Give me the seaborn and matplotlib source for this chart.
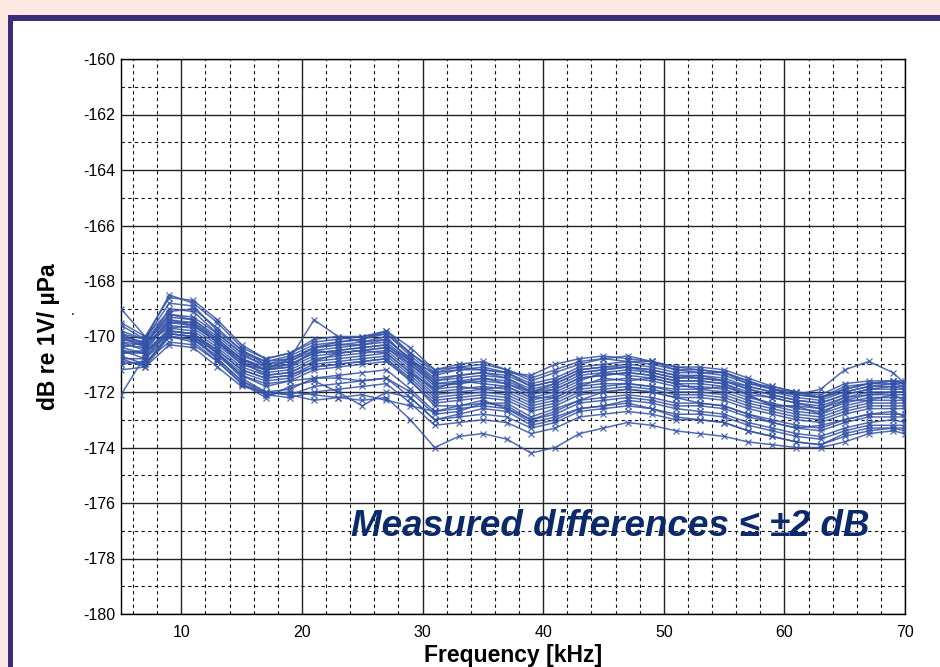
import pandas as pd
import matplotlib
matplotlib.use('Agg')
import matplotlib.pyplot as plt
from matplotlib.patches import Rectangle
from matplotlib.ticker import MultipleLocator
import seaborn as sns

# frequency points (kHz)
freq = [5, 7, 9, 11, 13, 15, 17, 19, 21, 23, 25, 27, 29, 31, 33, 35, 37,
        39, 41, 43, 45, 47, 49, 51, 53, 55, 57, 59, 61, 63, 65, 67, 69, 70]

# sensitivity curves (dB re 1V/uPa), one list per hydrophone
c1 = [-170.3,-170.4,-169.6,-169.7,-170.3,-171.0,-171.3,-171.2,-170.8,-170.7,-170.6,-170.5,-171.2,-172.0,-171.9,-171.8,-171.9,-172.3,-172.1,-171.7,-171.6,-171.5,-171.6,-171.8,-171.8,-171.9,-172.2,-172.4,-172.6,-172.7,-172.4,-172.2,-172.2,-172.2]
c2 = [-170.0,-170.2,-169.3,-169.4,-170.0,-170.7,-171.0,-170.9,-170.5,-170.4,-170.3,-170.2,-170.9,-171.7,-171.6,-171.5,-171.6,-172.0,-171.8,-171.4,-171.3,-171.2,-171.3,-171.5,-171.5,-171.6,-171.9,-172.1,-172.3,-172.4,-172.1,-171.9,-171.9,-171.9]
c3 = [-170.6,-170.6,-169.9,-170.0,-170.6,-171.3,-171.6,-171.5,-171.1,-171.0,-170.9,-170.8,-171.5,-172.3,-172.2,-172.1,-172.2,-172.6,-172.4,-172.0,-171.9,-171.8,-171.9,-172.1,-172.1,-172.2,-172.5,-172.7,-172.9,-173.0,-172.7,-172.5,-172.5,-172.5]
c4 = [-169.5,-170.0,-168.6,-168.7,-169.4,-170.3,-170.8,-170.6,-170.1,-170.0,-170.0,-169.8,-170.4,-171.2,-171.1,-171.0,-171.2,-171.5,-171.2,-170.9,-170.8,-170.9,-170.9,-171.1,-171.2,-171.3,-171.6,-171.9,-172.0,-172.1,-171.7,-171.6,-171.6,-171.6]
c5 = [-169.8,-170.1,-168.8,-168.9,-169.8,-170.5,-171.0,-170.8,-170.4,-170.3,-170.3,-170.1,-170.8,-171.5,-171.4,-171.3,-171.4,-171.8,-171.6,-171.2,-171.1,-171.1,-171.2,-171.4,-171.5,-171.6,-171.8,-172.0,-172.1,-171.9,-171.2,-170.9,-171.3,-171.7]
c6 = [-169.6,-170.1,-168.5,-168.8,-169.5,-170.4,-170.8,-170.6,-170.2,-170.1,-170.0,-169.9,-170.6,-171.3,-171.2,-171.1,-171.3,-171.7,-171.5,-171.1,-171.0,-170.9,-171.0,-171.2,-171.3,-171.3,-171.7,-171.8,-172.0,-172.2,-171.8,-171.7,-171.6,-171.7]
c7 = [-169.0,-170.0,-169.1,-169.0,-169.7,-170.5,-170.9,-170.7,-170.3,-170.2,-170.1,-169.9,-170.7,-171.4,-171.2,-171.2,-171.3,-171.8,-171.6,-171.2,-171.1,-171.0,-171.1,-171.3,-171.3,-171.4,-171.7,-171.9,-172.1,-172.2,-171.9,-171.7,-171.7,-171.7]
c8 = [-170.2,-170.3,-169.5,-169.6,-170.2,-170.9,-171.2,-171.1,-170.5,-170.6,-170.5,-170.4,-171.1,-171.9,-171.6,-171.7,-171.8,-172.2,-172.0,-171.6,-171.3,-171.4,-171.5,-171.7,-171.7,-171.8,-172.1,-172.5,-172.5,-172.6,-172.3,-172.1,-172.1,-172.1]
c9 = [-170.5,-170.6,-169.7,-169.8,-170.4,-171.1,-171.4,-171.3,-170.9,-170.8,-170.7,-170.6,-171.3,-172.1,-172.0,-171.9,-172.0,-172.4,-172.2,-171.8,-171.7,-171.7,-171.8,-171.9,-171.9,-172.0,-172.3,-172.5,-172.7,-172.8,-172.5,-172.3,-172.3,-172.3]
c10 = [-170.0,-170.4,-169.4,-169.5,-170.1,-170.8,-171.2,-171.0,-170.6,-170.5,-170.4,-170.3,-171.0,-171.8,-171.7,-171.6,-171.7,-172.1,-171.9,-171.5,-171.4,-171.3,-171.4,-171.6,-171.6,-171.7,-172.0,-172.2,-172.4,-172.5,-172.2,-172.0,-172.0,-172.0]
c11 = [-170.6,-170.5,-169.8,-169.9,-170.5,-171.2,-171.5,-171.4,-171.0,-170.9,-170.8,-170.7,-171.4,-172.2,-172.1,-172.0,-172.1,-172.5,-172.3,-171.9,-171.8,-171.7,-171.8,-172.0,-172.0,-172.1,-172.4,-172.6,-172.8,-172.9,-172.6,-172.4,-172.4,-172.4]
c12 = [-170.4,-170.2,-169.7,-169.6,-170.2,-170.9,-171.4,-171.3,-170.9,-170.6,-170.5,-170.6,-171.3,-171.9,-171.8,-171.9,-171.8,-172.2,-172.2,-171.8,-171.5,-171.6,-171.5,-171.7,-171.9,-171.8,-172.1,-172.5,-172.5,-172.8,-172.3,-172.3,-172.1,-172.3]
c13 = [-169.9,-170.1,-169.2,-169.3,-169.9,-170.6,-170.9,-170.8,-170.4,-170.3,-170.2,-170.1,-170.8,-171.6,-171.5,-171.4,-171.5,-171.9,-171.7,-171.3,-171.2,-171.1,-171.2,-171.4,-171.4,-171.5,-171.8,-172.0,-172.2,-172.3,-172.0,-171.8,-171.8,-171.8]
c14 = [-170.8,-170.8,-170.0,-170.1,-170.7,-171.4,-171.7,-171.6,-171.2,-171.1,-171.0,-170.9,-171.6,-172.4,-172.3,-172.2,-172.3,-172.7,-172.5,-172.1,-172.0,-171.9,-172.0,-172.2,-172.2,-172.3,-172.6,-172.8,-173.0,-173.1,-172.8,-172.6,-172.6,-172.6]
c15 = [-170.9,-171.0,-170.0,-170.1,-170.8,-171.6,-172.0,-171.9,-171.5,-171.4,-171.3,-171.2,-171.9,-172.7,-172.6,-172.5,-172.6,-173.0,-172.8,-172.4,-172.3,-172.2,-172.3,-172.5,-172.5,-172.6,-172.9,-173.1,-173.3,-173.4,-173.1,-172.9,-172.9,-172.9]
c16 = [-170.5,-170.8,-169.8,-169.9,-170.6,-171.5,-172.0,-172.1,-171.8,-171.7,-171.6,-171.5,-172.2,-173.0,-172.9,-172.8,-172.9,-173.3,-173.1,-172.7,-172.6,-172.5,-172.6,-172.8,-172.8,-172.9,-173.2,-173.4,-173.6,-173.7,-173.4,-173.2,-173.2,-173.2]
c17 = [-170.7,-171.0,-169.9,-170.0,-170.8,-171.6,-172.1,-172.2,-172.0,-171.9,-171.8,-171.7,-172.4,-173.2,-173.1,-173.0,-173.1,-173.5,-173.3,-172.9,-172.8,-172.7,-172.8,-173.0,-173.0,-173.1,-173.4,-173.6,-173.8,-173.9,-173.6,-173.4,-173.3,-173.4]
c18 = [-170.8,-171.1,-170.0,-170.2,-170.9,-171.7,-172.1,-172.0,-172.1,-172.2,-172.3,-172.2,-173.0,-174.0,-173.6,-173.5,-173.7,-174.2,-174.0,-173.5,-173.3,-173.1,-173.2,-173.4,-173.5,-173.6,-173.8,-173.9,-174.0,-174.0,-173.8,-173.5,-173.4,-173.5]
c19 = [-171.0,-170.9,-170.2,-170.3,-170.9,-171.7,-172.2,-171.8,-171.6,-172.0,-172.5,-172.0,-172.2,-173.0,-172.8,-172.6,-172.7,-173.2,-173.0,-172.6,-172.5,-172.3,-172.4,-172.6,-172.7,-172.8,-173.1,-173.3,-173.5,-173.6,-173.3,-173.1,-173.0,-173.1]
c20 = [-172.1,-170.7,-169.9,-170.0,-170.6,-171.4,-171.8,-171.6,-171.5,-171.5,-171.6,-171.5,-172.0,-172.8,-172.7,-172.4,-172.5,-173.0,-172.7,-172.3,-172.2,-172.1,-172.2,-172.4,-172.4,-172.5,-172.8,-173.0,-173.2,-173.3,-173.0,-172.8,-172.8,-172.8]
c21 = [-170.2,-170.5,-169.5,-169.5,-170.2,-171.0,-171.2,-170.8,-169.4,-170.0,-170.2,-170.0,-170.9,-171.6,-171.4,-171.3,-171.5,-172.0,-171.7,-171.3,-171.2,-171.1,-171.3,-171.5,-171.4,-171.6,-171.9,-172.1,-172.3,-172.4,-172.1,-171.9,-171.8,-171.9]
c22 = [-169.9,-170.3,-169.0,-169.1,-169.9,-170.6,-171.1,-170.9,-170.4,-170.2,-170.1,-169.8,-170.6,-171.2,-171.0,-170.9,-171.2,-171.6,-171.3,-171.0,-170.8,-170.7,-170.9,-171.2,-171.2,-171.3,-171.6,-171.9,-172.1,-172.2,-172.0,-171.8,-171.7,-171.8]
c23 = [-171.2,-171.1,-170.3,-170.4,-171.1,-171.8,-172.0,-172.1,-172.3,-172.2,-172.1,-172.3,-172.5,-172.7,-172.5,-172.4,-172.4,-172.9,-172.6,-172.3,-172.0,-171.9,-172.0,-172.2,-172.4,-172.5,-172.8,-173.1,-173.3,-173.2,-173.0,-172.8,-172.7,-172.9]
c24 = [-170.1,-170.3,-169.2,-169.4,-170.1,-170.8,-171.1,-171.0,-170.6,-170.5,-170.4,-170.3,-170.9,-171.3,-171.1,-171.2,-171.3,-171.4,-171.0,-170.8,-170.7,-170.8,-170.9,-171.1,-171.1,-171.2,-171.5,-171.8,-172.0,-172.2,-171.9,-171.7,-171.6,-171.7]
c25 = [-170.4,-170.6,-169.8,-169.9,-170.5,-171.2,-171.5,-171.4,-171.1,-171.0,-170.9,-170.8,-171.6,-172.5,-172.5,-172.3,-172.6,-173.1,-172.9,-172.6,-172.5,-172.4,-172.6,-172.9,-173.0,-173.1,-173.4,-173.6,-173.8,-173.9,-173.5,-173.3,-173.3,-173.3]
c26 = [-170.1,-170.2,-169.4,-169.6,-170.2,-170.8,-171.2,-171.1,-170.7,-170.6,-170.5,-170.4,-171.0,-171.7,-171.7,-171.5,-171.7,-172.0,-171.9,-171.5,-171.4,-171.3,-171.4,-171.6,-171.6,-171.7,-172.1,-172.2,-172.4,-172.6,-172.2,-172.1,-172.0,-172.0]

curves = [c1,c2,c3,c4,c5,c6,c7,c8,c9,c10,c11,c12,c13,c14,c15,c16,c17,c18,c19,c20,c21,c22,c23,c24,c25,c26]

rows = []
for i, c in enumerate(curves):
    for f, v in zip(freq, c):
        rows.append((i, f, v))
df = pd.DataFrame(rows, columns=['curve', 'freq', 'db'])

sns.set_style('white')
plt.rcParams['font.family'] = ['Liberation Sans', 'DejaVu Sans']
plt.rcParams['axes.unicode_minus'] = False
plt.rcParams['text.color'] = 'black'
plt.rcParams['axes.labelcolor'] = 'black'
plt.rcParams['xtick.color'] = 'black'
plt.rcParams['ytick.color'] = 'black'

fig = plt.figure(figsize=(9.4, 6.67), dpi=100)
fig.patch.set_facecolor('#fde8e4')
# purple frame and white panel
fig.patches.append(Rectangle((8/940, 0), 1, 1 - 15/667, transform=fig.transFigure,
                             facecolor='#3b2d78', edgecolor='none', zorder=-2))
fig.patches.append(Rectangle((13/940, 0), 1, 1 - 21/667, transform=fig.transFigure,
                             facecolor='white', edgecolor='none', zorder=-1))

ax = fig.add_axes([121/940, 53/667, 784/940, 555/667])
ax.set_facecolor('white')

line_col = '#3452a6'
sns.lineplot(data=df, x='freq', y='db', units='curve', estimator=None,
             color=line_col, alpha=0.85, lw=1.1, marker='x', markersize=4.5,
             markeredgewidth=0.9, markeredgecolor=line_col, ax=ax, zorder=3)

ax.set_xlim(5, 70)
ax.set_ylim(-180, -160)
ax.xaxis.set_major_locator(MultipleLocator(10))
ax.xaxis.set_minor_locator(MultipleLocator(2))
ax.yaxis.set_major_locator(MultipleLocator(2))
ax.yaxis.set_minor_locator(MultipleLocator(1))
ax.grid(which='major', color='#222222', lw=1.0, ls='-', zorder=0)
ax.grid(which='minor', color='#111111', lw=0.8, ls=(0, (3, 3)), zorder=0)
ax.set_axisbelow(True)
ax.tick_params(which='both', length=0, labelsize=11.5, colors='black')
ax.tick_params(axis='x', pad=8)
ax.tick_params(axis='y', pad=4)
for s in ax.spines.values():
    s.set_color('black')
    s.set_linewidth(1.0)

ax.set_xlabel('Frequency [kHz]', fontsize=16.5, fontweight='bold', color='black')
ax.set_ylabel('dB re 1V/ µPa', fontsize=16.5, fontweight='bold', color='black')
ax.xaxis.set_label_coords(0.5, -0.074)
ax.xaxis.label.set_va('center')
ax.yaxis.set_label_coords(-0.093, 0.5)
ax.yaxis.label.set_va('center')

fig.text(73/940, 1 - 311/667, '.', fontsize=10, ha='center', va='center')

ax.text(45.6, -176.85, 'Measured differences \u2264 \u00b12 dB', fontsize=26.5,
        fontweight='bold', fontstyle='italic', color='#0c2a6b',
        ha='center', va='center', zorder=5)

fig.savefig('out.png', dpi=100, facecolor=fig.get_facecolor())
